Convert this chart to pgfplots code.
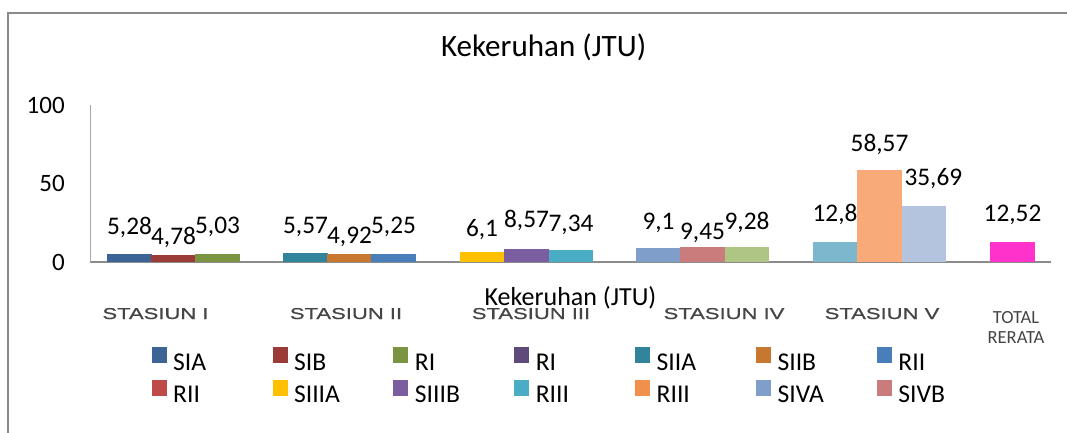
\documentclass[border=0pt]{standalone}
\usepackage{pgfplots}
\pgfplotsset{compat=1.18}
\usepackage{fontspec}
\setmainfont{Carlito}
\newfontfamily\catfont[FakeStretch=1.4,FakeBold=0.8]{Liberation Sans}
\definecolor{cSIA}{HTML}{3C6494}
\definecolor{cSIB}{HTML}{9A3B38}
\definecolor{cRIa}{HTML}{7A9441}
\definecolor{cRIb}{HTML}{604A7B}
\definecolor{cSIIA}{HTML}{31849B}
\definecolor{cSIIB}{HTML}{C7772F}
\definecolor{cRIIa}{HTML}{4A7EBB}
\definecolor{cRIIb}{HTML}{BE4B48}
\definecolor{cSIIIA}{HTML}{FFC000}
\definecolor{cSIIIB}{HTML}{7B5EA0}
\definecolor{cRIIIa}{HTML}{4BACC6}
\definecolor{cRIIIb}{HTML}{F0904A}
\definecolor{cSIVA}{HTML}{7F9FCA}
\definecolor{cSIVB}{HTML}{CA7B7B}
\definecolor{cRIV}{HTML}{AFC585}
\definecolor{cSVA}{HTML}{7BB8CE}
\definecolor{cSVB}{HTML}{F8AA79}
\definecolor{cRV}{HTML}{B4C4DE}
\definecolor{cTot}{HTML}{FF33CC}
\definecolor{framegray}{HTML}{8A8A8A}
\definecolor{xaxgray}{HTML}{8C8C8C}
\definecolor{yaxgray}{HTML}{A6A6A6}
\definecolor{catgray}{HTML}{454545}
\newcommand{\legsq}[2]{\addlegendimage{legend image code/.code={\fill[#1] (0pt,0.375pt) rectangle (10.5pt,11.625pt);}}\addlegendentry{\makebox[74.5pt][l]{#2}}}
\pgfplotsset{
  bb/.style={ybar, bar shift=0pt, bar width=44.3, fill=#1, draw=none, forget plot},
  lab/.style={nodes near coords, point meta=explicit symbolic,
    every node near coord/.append style={anchor=center, yshift=#1, inner sep=0pt, font=\fontsize{19}{20}\selectfont}},
}
\begin{document}
\begin{tikzpicture}
\useasboundingbox (0,0) rectangle (800.25pt,-324pt);
\draw[framegray, line width=1.5pt] (6pt,-9.75pt) rectangle (830pt,-350pt);
\begin{axis}[
  at={(67.5pt,-196.5pt)}, anchor=south west,
  scale only axis, width=720.75pt, height=117.75pt,
  xmin=90, xmax=1051, ymin=0, ymax=100,
  axis x line*=bottom, axis y line*=left,
  x axis line style={draw=xaxgray, line width=1.2pt, -},
  y axis line style={draw=yaxgray, line width=0.75pt, -},
  ytick={0,50,100}, major tick length=0pt,
  /pgf/number format/assume math mode=true,
  yticklabel style={font=\fontsize{18.75}{20}\selectfont, anchor=east, inner sep=0pt, xshift=-18.75pt},
  xtick={155.5,346,531,724,882},
  xticklabels={STASIUN I, STASIUN II, STASIUN III, STASIUN IV, STASIUN V},
  xticklabel style={font=\catfont\fontsize{11.8}{12}\selectfont, text=catgray, anchor=base, yshift=-42.75pt},
  extra x ticks={1016},
  extra x tick labels={TOTAL\\RERATA},
  extra x tick style={xticklabel style={font=\fontsize{13.9}{15}\selectfont, align=center, anchor=north, inner sep=0pt, yshift=6pt}},
  title={Kekeruhan (JTU)},
  title style={at={(axis description cs:0.472,1.255)}, anchor=base, font=\fontsize{23.3}{25}\selectfont},
  xlabel={Kekeruhan (JTU)},
  xlabel style={at={(axis description cs:0.5,-0.274)}, anchor=base, font=\fontsize{19.5}{21}\selectfont},
  legend columns=7,
  legend style={at={(0.0642,-0.543)}, anchor=north west, draw=none, fill=none,
    inner sep=0pt, outer sep=0pt, font=\fontsize{19.2}{20}\selectfont,
    nodes={inner sep=0pt},
    /tikz/every odd column/.style={column sep=5.25pt},
    /tikz/every even column/.style={column sep=0pt},
    row sep=5.5pt},
  legend cell align=left,
  clip=false,
]
% Stasiun I
\addplot[bb=cSIA, lab=20pt] coordinates {(129.5,5.28) [5,28]};
\addplot[bb=cSIB, lab=13.1pt] coordinates {(173.5,4.78) [4,78]};
\addplot[bb=cRIa, lab=20.25pt] coordinates {(217.5,5.03) [5,03]};
% Stasiun II
\addplot[bb=cSIIA, lab=19.5pt] coordinates {(305.5,5.57) [5,57]};
\addplot[bb=cSIIB, lab=12.75pt] coordinates {(349.5,4.92) [4,92]};
\addplot[bb=cRIIa, lab=20.25pt] coordinates {(393.5,5.25) [5,25]};
% Stasiun III
\addplot[bb=cSIIIA, lab=17.5pt] coordinates {(482,6.1) [6,1]};
\addplot[bb=cSIIIB, lab=21.4pt] coordinates {(526.5,8.57) [8,57]};
\addplot[bb=cRIIIa, lab=19.1pt] coordinates {(571,7.34) [7,34]};
% Stasiun IV
\addplot[bb=cSIVA, lab=18.5pt] coordinates {(658.5,9.1) [9,1]};
\addplot[bb=cSIVB, lab=10.5pt] coordinates {(702.5,9.45) [9,45]};
\addplot[bb=cRIV, lab=19pt] coordinates {(747,9.28) [9,28]};
% Stasiun V
\addplot[bb=cSVA, lab=20.25pt] coordinates {(835,12.8) [12,8]};
\addplot[bb=cSVB, lab=19.5pt] coordinates {(879.5,58.57) [58,57]};
\addplot[bb=cRV, lab=20.25pt, every node near coord/.append style={xshift=7pt}] coordinates {(924,35.69) [35,69]};
% Total rerata
\addplot[bb=cTot, lab=20.25pt] coordinates {(1012.5,12.52) [12,52]};
% legend
\legsq{cSIA}{SIA}
\legsq{cSIB}{SIB}
\legsq{cRIa}{RI}
\legsq{cRIb}{RI}
\legsq{cSIIA}{SIIA}
\legsq{cSIIB}{SIIB}
\legsq{cRIIa}{RII}
\legsq{cRIIb}{RII}
\legsq{cSIIIA}{SIIIA}
\legsq{cSIIIB}{SIIIB}
\legsq{cRIIIa}{RIII}
\legsq{cRIIIb}{RIII}
\legsq{cSIVA}{SIVA}
\legsq{cSIVB}{SIVB}
\end{axis}
\end{tikzpicture}
\end{document}
